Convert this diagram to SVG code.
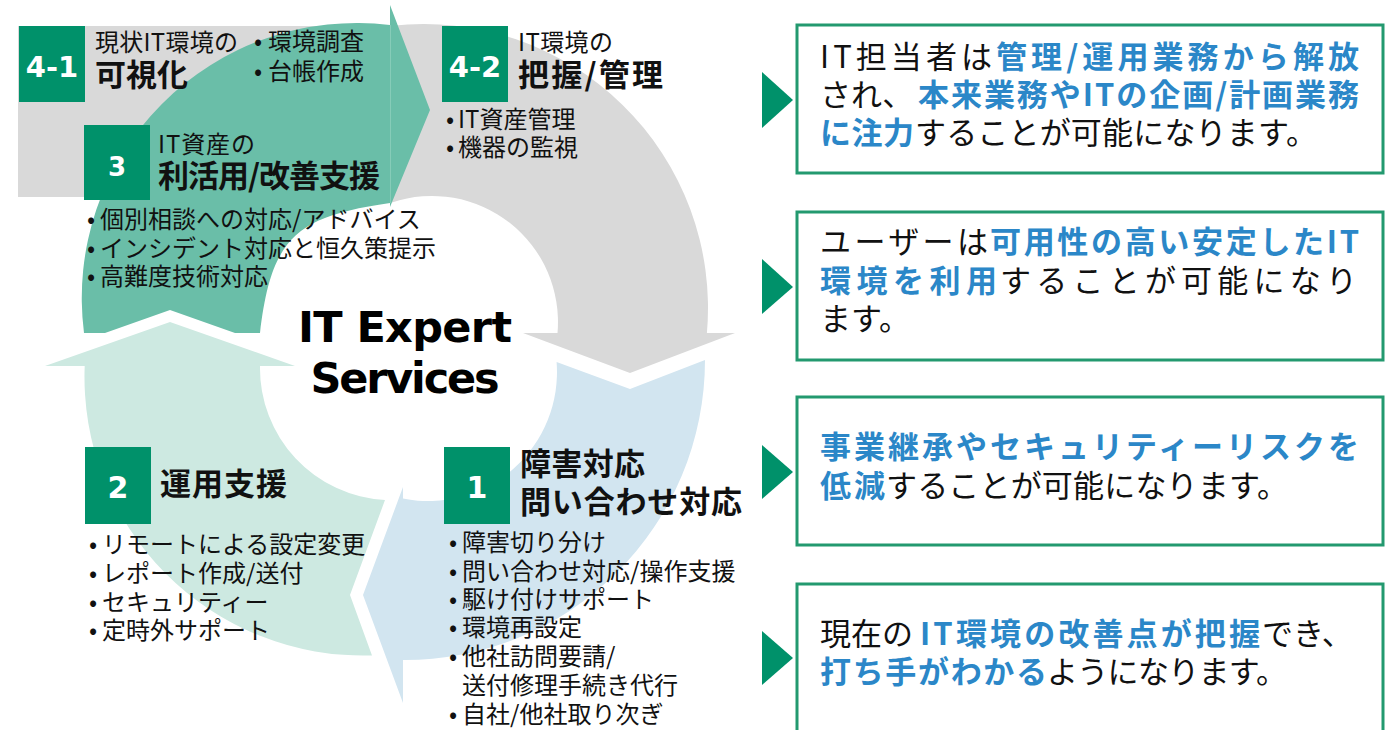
<svg xmlns="http://www.w3.org/2000/svg" width="1397" height="730" viewBox="0 0 1397 730">
<style>
.jp{font-family:'Noto Sans CJK JP','Noto Sans CJK SC',sans-serif;fill:#111}
.s24{font-size:24px}
.s31{font-size:31px}
.h{font-size:31px;font-weight:700}
.bl{fill:#2B87C8;font-weight:700}
.sq{fill:#00916A}
.num{font-family:'DejaVu Sans',sans-serif;font-weight:700;fill:#fff;text-anchor:middle}
.box{fill:#fff;stroke:#23996F;stroke-width:3}
.tri{fill:#00916A}
</style>
<rect width="1397" height="730" fill="#fff"/>
<rect id="bg41" x="18" y="26" width="382" height="171" fill="#D9D9D9"/>
<g id="cycle">
  <path id="arc-gray" fill="#D9D9D9" d="M392,25.8 A284,284 0 0 1 706.9,333 L735,333 L630,373 L523,333 L557.5,333 A126,126 0 0 0 392,202.5 Z"/>
  <path id="arc-blue" fill="#D2E5F0" d="M556.6,362 L630,389 L705,360 A300,300 0 0 1 403,660 L403,703 L363,595 L403,487 L403,498.6 A129,129 0 0 0 556.6,362 Z"/>
  <path id="arc-lightgreen" fill="#CDE9E1" d="M45,366 L170,322 L295,366 L260,366 A132,132 0 0 0 385,500 L350,595 L372,655.4 A278.5,278.5 0 0 1 84.7,366 Z"/>
  <path id="arc-darkgreen" fill="#6ABEA8" d="M84,333 A275,275 0 0 1 390,25 L390,5 L430,110 L390,207 L390,203 C295,216.6 271.4,238 260,333 L235,333 L170,310 L105,333 Z"/>
  <line x1="390.5" y1="25" x2="390.5" y2="203" stroke="#86CCB8" stroke-width="1"/>
</g>
<g id="center">
  <text x="405" y="342" font-family="'DejaVu Sans',sans-serif" font-weight="700" font-size="43" text-anchor="middle" fill="#000" textLength="214">IT Expert</text>
  <text x="405" y="393" font-family="'DejaVu Sans',sans-serif" font-weight="700" font-size="43" text-anchor="middle" fill="#000" textLength="189">Services</text>
</g>
<g id="step-4-1">
  <rect class="sq" x="19" y="26" width="66" height="76"/>
  <text class="num" x="52" y="77" font-size="29">4-1</text>
  <text class="jp s24" x="95" y="51" textLength="143">現状IT環境の</text>
  <text class="jp h" x="95" y="86" textLength="93">可視化</text>
  <text class="jp s24" x="254" y="50">•<tspan x="268">環境調査</tspan></text>
  <text class="jp s24" x="254" y="80">•<tspan x="268">台帳作成</tspan></text>
</g>
<g id="step-4-2">
  <rect class="sq" x="442" y="26" width="66" height="76"/>
  <text class="num" x="475" y="77" font-size="29">4-2</text>
  <text class="jp s24" x="518" y="51" textLength="95">IT環境の</text>
  <text class="jp h" x="518" y="86" textLength="145">把握/管理</text>
  <text class="jp s24" x="446" y="128">•<tspan x="458">IT資産管理</tspan></text>
  <text class="jp s24" x="446" y="156">•<tspan x="458">機器の監視</tspan></text>
</g>
<g id="step-3">
  <rect class="sq" x="84" y="125" width="66" height="75"/>
  <text class="num" x="117" y="176" font-size="26">3</text>
  <text class="jp s24" x="158" y="153" textLength="97">IT資産の</text>
  <text class="jp h" x="158" y="187" textLength="222">利活用/改善支援</text>
  <text class="jp s24" x="87" y="228">•<tspan x="100">個別相談への対応/アドバイス</tspan></text>
  <text class="jp s24" x="87" y="257">•<tspan x="100">インシデント対応と恒久策提示</tspan></text>
  <text class="jp s24" x="87" y="285">•<tspan x="100">高難度技術対応</tspan></text>
</g>
<g id="step-2">
  <rect class="sq" x="85" y="447" width="66" height="77"/>
  <text class="num" x="118" y="498" font-size="30">2</text>
  <text class="jp h" x="160" y="495" textLength="127">運用支援</text>
  <text class="jp s24" x="89" y="553">•<tspan x="102">リモートによる設定変更</tspan></text>
  <text class="jp s24" x="89" y="582">•<tspan x="102">レポート作成/送付</tspan></text>
  <text class="jp s24" x="89" y="611">•<tspan x="102">セキュリティー</tspan></text>
  <text class="jp s24" x="89" y="639">•<tspan x="102">定時外サポート</tspan></text>
</g>
<g id="step-1">
  <rect class="sq" x="444" y="447" width="66" height="77"/>
  <text class="num" x="477" y="498" font-size="30">1</text>
  <text class="jp h" x="520" y="475" textLength="125">障害対応</text>
  <text class="jp h" x="520" y="513" textLength="222">問い合わせ対応</text>
  <text class="jp s24" x="449" y="551">•<tspan x="462">障害切り分け</tspan></text>
  <text class="jp s24" x="449" y="580">•<tspan x="462">問い合わせ対応/操作支援</tspan></text>
  <text class="jp s24" x="449" y="608">•<tspan x="462">駆け付けサポート</tspan></text>
  <text class="jp s24" x="449" y="636">•<tspan x="462">環境再設定</tspan></text>
  <text class="jp s24" x="449" y="665">•<tspan x="462">他社訪問要請/</tspan></text>
  <text class="jp s24" x="462" y="694">送付修理手続き代行</text>
  <text class="jp s24" x="449" y="723">•<tspan x="462">自社/他社取り次ぎ</tspan></text>
</g>
<g id="connectors">
  <polygon class="tri" points="762,72 793,100 762,128"/>
  <polygon class="tri" points="762,259 793,287 762,314"/>
  <polygon class="tri" points="762,445 793,472 762,499"/>
  <polygon class="tri" points="762,631 793,658 762,685"/>
</g>
<g id="result-1">
  <rect class="box" x="797" y="25" width="586" height="148"/>
  <text class="jp s31" x="820" y="68" textLength="172">IT担当者は</text>
  <text class="jp s31 bl" x="996" y="68" textLength="363">管理/運用業務から解放</text>
  <text class="jp s31" x="820" y="106">され、</text>
  <text class="jp s31 bl" x="918" y="106" textLength="441">本来業務やITの企画/計画業務</text>
  <text class="jp s31 bl" x="820" y="144" textLength="94">に注力</text>
  <text class="jp s31" x="915" y="144" textLength="402">することが可能になります。</text>
</g>
<g id="result-2">
  <rect class="box" x="797" y="212" width="586" height="148"/>
  <text class="jp s31" x="820" y="253" textLength="168">ユーザーは</text>
  <text class="jp s31 bl" x="990" y="253" textLength="369">可用性の高い安定したIT</text>
  <text class="jp s31 bl" x="820" y="292" textLength="177">環境を利用</text>
  <text class="jp s31" x="1000" y="292" textLength="357">することが可能になり</text>
  <text class="jp s31" x="820" y="330">ます。</text>
</g>
<g id="result-3">
  <rect class="box" x="797" y="397" width="586" height="148"/>
  <text class="jp s31 bl" x="820" y="458" textLength="539">事業継承やセキュリティーリスクを</text>
  <text class="jp s31 bl" x="820" y="497" textLength="65">低減</text>
  <text class="jp s31" x="886" y="497" textLength="402">することが可能になります。</text>
</g>
<g id="result-4">
  <rect class="box" x="797" y="584" width="586" height="170"/>
  <text class="jp s31" x="820" y="645">現在の</text>
  <text class="jp s31 bl" x="920" y="645" textLength="340">IT環境の改善点が把握</text>
  <text class="jp s31" x="1262" y="645">でき、</text>
  <text class="jp s31 bl" x="820" y="683" textLength="227">打ち手がわかる</text>
  <text class="jp s31" x="1047" y="683" textLength="240">ようになります。</text>
</g>
</svg>
